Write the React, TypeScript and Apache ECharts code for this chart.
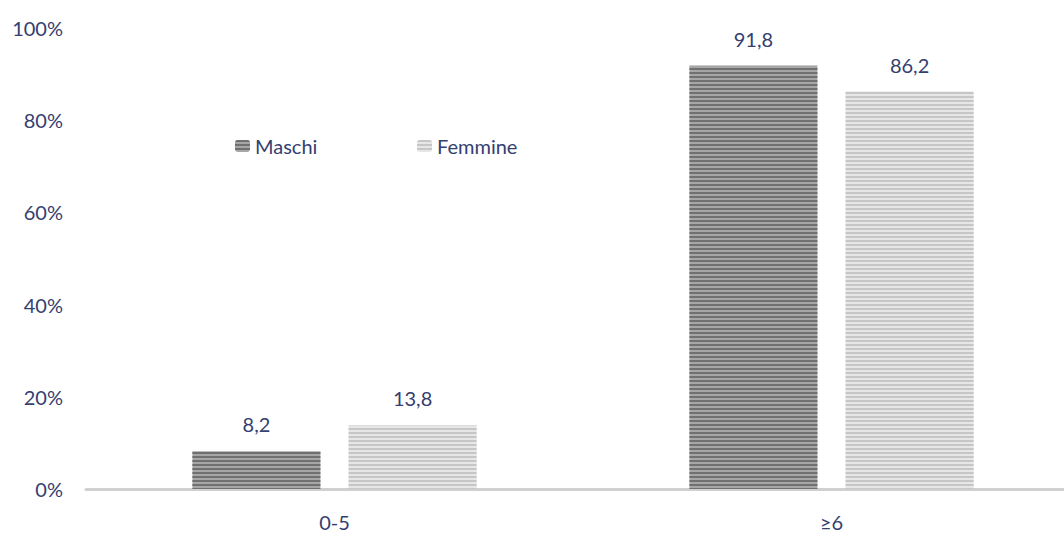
import React, { useEffect, useRef } from "react";
import * as echarts from "echarts";

const categories = ["0-5", "≥6"];
const maschi = [8.2, 91.8];
const femmine = [13.8, 86.2];
const yTicks = [0, 20, 40, 60, 80, 100];

const TEXT = "#34406f";
const FONT = "Lato, 'Open Sans', sans-serif";

export default function App() {
  const ref = useRef<HTMLDivElement>(null);
  useEffect(() => {
    const chart = echarts.init(ref.current!, null, { renderer: "svg" });
    const fmt = (p: any) => Number(p.value).toFixed(1).replace(".", ",");
    const legendText = { color: TEXT, fontSize: 20, fontFamily: FONT };
    chart.setOption({
      animation: false,
      backgroundColor: "#ffffff",
      grid: { left: 86, top: 28, bottom: 45, right: 0 },
      legend: [
        {
          data: ["Maschi"],
          left: 230,
          top: 131,
          itemWidth: 15,
          itemHeight: 12,
          itemGap: 6,
          textStyle: legendText,
        },
        {
          data: ["Femmine"],
          left: 412,
          top: 131,
          itemWidth: 15,
          itemHeight: 12,
          textStyle: legendText,
        },
      ],
      xAxis: {
        type: "category",
        data: categories,
        axisLine: { lineStyle: { color: "#d0d0d0", width: 3 } },
        axisTick: { show: false },
        axisLabel: { color: TEXT, fontSize: 20, fontFamily: FONT, margin: 23 },
      },
      yAxis: {
        type: "value",
        min: yTicks[0],
        max: yTicks[yTicks.length - 1],
        interval: 20,
        splitLine: { show: false },
        axisLine: { show: false },
        axisTick: { show: false },
        axisLabel: {
          color: TEXT,
          fontSize: 20,
          fontFamily: FONT,
          margin: 23,
          formatter: "{value}%",
        },
      },
      series: [
        {
          name: "Maschi",
          type: "bar",
          data: maschi,
          barWidth: 128,
          barGap: "22%",
          itemStyle: {
            color: "#a6a6a6",
            decal: {
              symbol: "rect",
              color: "#707070",
              dashArrayX: [1, 0],
              dashArrayY: [2, 2],
              rotation: 0,
            },
          },
          label: {
            show: true,
            position: "top",
            distance: 17,
            color: TEXT,
            fontSize: 20,
            fontFamily: FONT,
            formatter: fmt,
          },
        },
        {
          name: "Femmine",
          type: "bar",
          data: femmine,
          barWidth: 128,
          itemStyle: {
            color: "#e6e6e6",
            decal: {
              symbol: "rect",
              color: "#c6c6c6",
              dashArrayX: [1, 0],
              dashArrayY: [2, 2],
              rotation: 0,
            },
          },
          label: {
            show: true,
            position: "top",
            distance: 17,
            color: TEXT,
            fontSize: 20,
            fontFamily: FONT,
            formatter: fmt,
          },
        },
      ],
    });
    return () => chart.dispose();
  }, []);
  return (
    <div
      ref={ref}
      style={{ position: "fixed", left: 0, top: 0, width: 1080, height: 534 }}
    />
  );
}
